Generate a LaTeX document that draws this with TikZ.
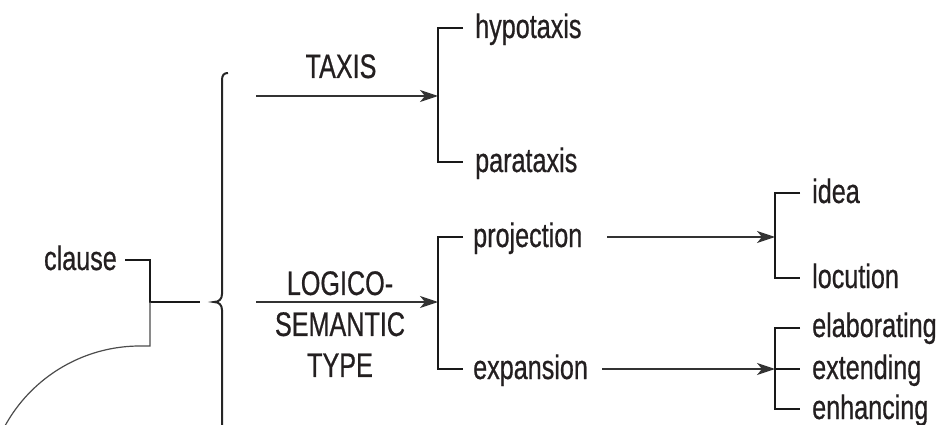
\documentclass[tikz,border=0pt]{standalone}
\usepackage{fontspec}
\setmainfont[FakeStretch=0.74,FakeBold=0.6]{Liberation Sans}
\usetikzlibrary{arrows.meta,calc}
\definecolor{ink}{HTML}{231F20}
\begin{document}
\begin{tikzpicture}[x=1pt,y=1pt,
  lbl/.style={inner sep=0pt, font=\fontsize{34}{41}\selectfont, text=ink},
  brk/.style={line width=2.9pt, black!90},
  arr/.style={line width=1.5pt, draw=black!80, -{Stealth[length=18pt,width=12pt,inset=5pt]}},
  thinline/.style={line width=1.2pt, draw=black!70},
  bracestyle/.style={line width=2pt, draw=black!85},
]
\useasboundingbox (0,0) rectangle (945,-425);
\clip (0,0) rectangle (945,-425);

% labels
\node[lbl, anchor=base east] (clause) at (117,-270) {clause};
\node[lbl, anchor=base] (taxis) at (341,-78) {TAXIS};
\node[lbl, anchor=north, align=center] (lst) at (340,-271) {LOGICO-\\SEMANTIC\\TYPE};
\node[lbl, anchor=base west] (hypo) at (475,-38) {hypotaxis};
\node[lbl, anchor=base west] (para) at (475,-172) {parataxis};
\node[lbl, anchor=base west] (proj) at (473,-247) {projection};
\node[lbl, anchor=base west] (expa) at (473,-379) {expansion};
\node[lbl, anchor=base west] (idea) at (812,-203) {idea};
\node[lbl, anchor=base west] (locu) at (812,-288) {locution};
\node[lbl, anchor=base west] (elab) at (812,-337) {elaborating};
\node[lbl, anchor=base west] (exte) at (812,-379) {extending};
\node[lbl, anchor=base west] (enha) at (812,-419) {enhancing};

% coordinates
\coordinate (j) at (150,-302);
\coordinate (k) at (200,-302);
\coordinate (t0) at (256,-96);
\coordinate (l0) at (256,-302);
\coordinate (b1) at (438,-96);
\coordinate (b2) at (438,-302);
\coordinate (p0) at (607,-237);
\coordinate (e0) at (602,-369);
\coordinate (b3) at (775,-237);
\coordinate (b4) at (775,-369);

% clause connector
\draw[brk] ($(clause.base east)+(8,10)$) -| (j) -- (k);
\draw[thinline] (j) -- (150,-346) -- (140,-346) arc[start angle=90,end angle=165,radius=154];

% brace
\draw[bracestyle] (228,-73) .. controls (224,-73) and (222,-75) .. (222,-80)
  -- (222,-294) .. controls (222,-299) and (219,-302) .. (214,-302)
  .. controls (219,-302) and (222,-305) .. (222,-310) -- (222,-440);

% arrows
\draw[arr] (t0) -- (b1);
\draw[arr] (l0) -- (b2);
\draw[arr] (p0) -- (b3);
\draw[arr] (e0) -- (b4);

% brackets
\draw[brk] ($(hypo.base west)+(-12,10)$) -| (b1) |- ($(para.base west)+(-12,10)$);
\draw[brk] ($(proj.base west)+(-10,10)$) -| (b2) |- ($(expa.base west)+(-10,10)$);
\draw[brk] ($(idea.base west)+(-12,10)$) -| (b3) |- ($(locu.base west)+(-12,10)$);
\draw[brk] ($(elab.base west)+(-12,9)$) -| (b4) |- ($(enha.base west)+(-12,10)$);
\draw[brk] (b4) -- ($(exte.base west)+(-12,10)$);
\end{tikzpicture}
\end{document}
